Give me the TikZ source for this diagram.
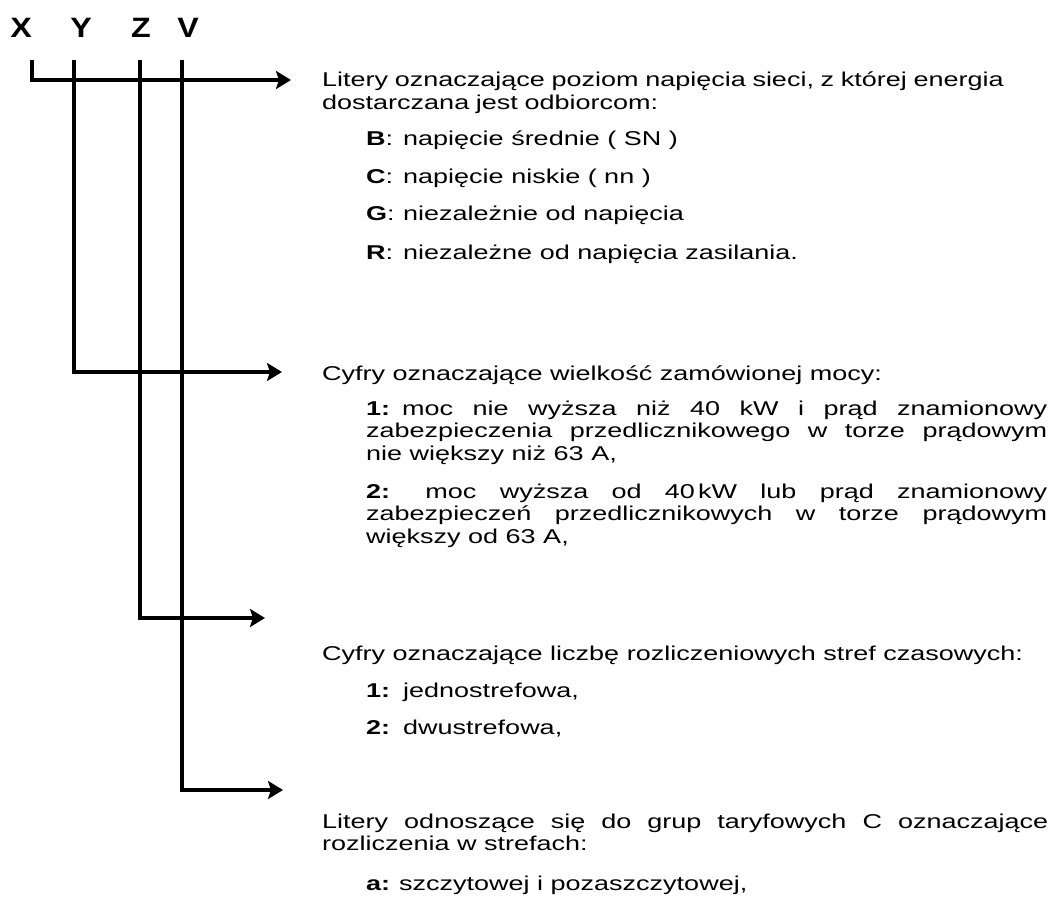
\documentclass[tikz,border=0pt]{standalone}
\usepackage{fontspec}
\setmainfont[FakeStretch=1.35]{Liberation Sans}
\newfontfamily\codefont[FakeStretch=1.15]{Liberation Sans}
\usetikzlibrary{arrows.meta,positioning}

\newcommand{\keylabel}[2][37pt]{\hangindent=#1\hangafter=1\makebox[#1][l]{#2}}

\begin{document}
\begin{tikzpicture}[
  x=1pt, y=-1pt,
  >=Stealth,
  code/.style={
    font=\codefont\fontsize{28}{32}\selectfont\bfseries,
    inner sep=0pt,
  },
  desc/.style={
    font=\fontsize{20}{22.7}\selectfont,
    anchor=base west,
    inner sep=0pt,
    text width=726pt,
    align=justify,
  },
  item/.style={
    desc,
    text width=681pt,
  },
  arr/.style={
    -{Stealth[length=15pt,width=18pt,inset=3pt]},
    line width=4.5pt,
    line join=miter,
    black,
  },
]
\useasboundingbox (0,0) rectangle (1058,912);

% Code letters
\node[code] (x) at (21,28)  {X};
\node[code] (y) at (81,28)  {Y};
\node[code] (z) at (141,28) {Z};
\node[code] (v) at (188,28) {V};

% Descriptions
\node[desc, align=left] (descx) at (322,87)
  {Litery oznaczające poziom napięcia sieci, z której energia\\dostarczana jest odbiorcom:};
\node[item] (xb) at (366,146) {\keylabel{\textbf{B}:}napięcie średnie ( SN )};
\node[item] (xc) at (366,184) {\keylabel{\textbf{C}:}napięcie niskie ( nn )};
\node[item] (xg) at (366,221) {\keylabel{\textbf{G}:}niezależnie od napięcia};
\node[item] (xr) at (366,260) {\keylabel{\textbf{R}:}niezależne od napięcia zasilania.};

\node[desc] (descy) at (322,380) {Cyfry oznaczające wielkość zamówionej mocy:};
\node[item] (y1) at (366,415)
  {\keylabel[36pt]{\textbf{1:}}moc nie wyższa niż 40 kW i prąd znamionowy\linebreak
   zabezpieczenia przedlicznikowego w torze prądowym\linebreak
   nie większy niż 63 A,};
\node[item] (y2) at (366,498)
  {\keylabel[36pt]{\textbf{2:}}\ moc wyższa od 40\,kW lub prąd znamionowy\linebreak
   zabezpieczeń przedlicznikowych w torze prądowym\linebreak
   większy od 63 A,};

\node[desc] (descz) at (322,660) {Cyfry oznaczające liczbę rozliczeniowych stref czasowych:};
\node[item] (z1) at (366,697) {\keylabel{\textbf{1:}}jednostrefowa,};
\node[item] (z2) at (366,734) {\keylabel{\textbf{2:}}dwustrefowa,};

\node[desc] (descv) at (322,828)
  {Litery odnoszące się do grup taryfowych C oznaczające\linebreak
   rozliczenia w strefach:};
\node[item] (va) at (366,890) {\keylabel[33pt]{\textbf{a:}}szczytowej i pozaszczytowej,};

% Arrows
\coordinate (xtop) at (32,60);
\coordinate (ytop) at (74,60);
\coordinate (ztop) at (140,60);
\coordinate (vtop) at (182,60);
\coordinate (xend) at (291,80);
\coordinate (yend) at (282,372);
\coordinate (zend) at (265,618);
\coordinate (vend) at (283,790);

\draw[arr] (xtop) |- (xend);
\draw[arr] (ytop) |- (yend);
\draw[arr] (ztop) |- (zend);
\draw[arr] (vtop) |- (vend);

\end{tikzpicture}
\end{document}
